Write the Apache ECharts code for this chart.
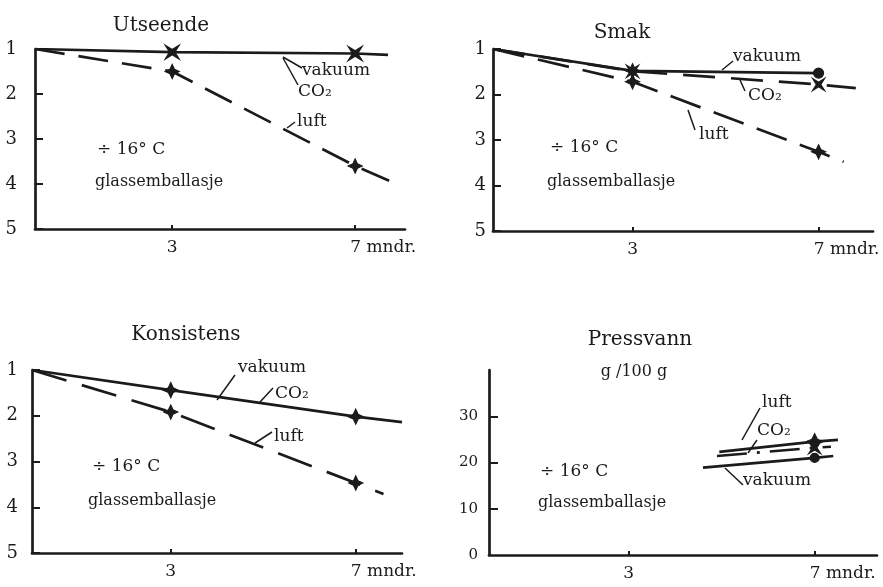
<!DOCTYPE html>
<html><head><meta charset="utf-8">
<script src="https://cdn.jsdelivr.net/npm/echarts@6/dist/echarts.min.js"></script>
<style>html,body{margin:0;padding:0;background:#fff}#c{width:883px;height:587px}</style>
</head><body><div id="c"></div>
<script>
// ---- data (months, scores) ----
const titles = ['Utseende', 'Smak', 'Konsistens', 'Pressvann'];
const scoreTicks = [1, 2, 3, 4, 5];
const pressTicks = [0, 10, 20, 30];
const monthTicks = [3, 7];

const utsVakMonths = [0, 3, 7, 7.72];
const utsVakuum    = [1, 1.07, 1.1, 1.13];
const utsLuftMonths = [0, 3, 7, 7.82];
const utsLuft       = [1, 1.5, 3.6, 3.96];

const smakVakMonths = [0, 3, 7];
const smakVakuum    = [1, 1.48, 1.53];
const smakCO2Months = [0, 3, 7, 7.8];
const smakCO2       = [1, 1.49, 1.78, 1.86];
const smakLuftMonths = [0, 3, 7, 7.54];
const smakLuft       = [1, 1.72, 3.26, 3.48];

const konsVakMonths = [0, 3, 7, 8.0];
const konsVakuum    = [1, 1.44, 2.02, 2.14];
const konsLuftMonths = [0, 3, 7, 7.6];
const konsLuft       = [1, 1.92, 3.47, 3.71];

const pressLuftMonths = [4.95, 7, 7.5];
const pressLuft       = [22.3, 24.5, 24.9];
const pressCO2Months  = [4.9, 7, 7.35];
const pressCO2        = [21.4, 23.2, 23.4];
const pressVakMonths  = [4.6, 7, 7.4];
const pressVakuum     = [18.9, 21.0, 21.4];

// ---- styling ----
const INK = '#1b1b1b';
const FONT = 'DejaVu Serif';
const STAR = 'path://M0,-10 L3.2,-3.2 L10,0 L3.2,3.2 L0,10 L-3.2,3.2 L-10,0 L-3.2,-3.2 Z';
const XSTAR = 'path://M-8,-8 L0,-3 L8,-8 L3,0 L8,8 L0,3 L-8,8 L-3,0 Z';

function pts(months, vals, symbol, size) {
  return months.map((m, i) => {
    const marked = (m === 3 || m === 7);
    return { value: [m, vals[i]], symbol: marked ? symbol : 'none', symbolSize: size || 14 };
  });
}
function line(idx, months, vals, opts) {
  return {
    type: 'line', xAxisIndex: idx, yAxisIndex: idx,
    data: pts(months, vals, opts.symbol, opts.size),
    showSymbol: true, silent: true, animation: false, z: opts.z || 2,
    lineStyle: { color: INK, width: 2.7, type: opts.dash || 'solid', cap: 'butt' },
    itemStyle: { color: INK, borderColor: INK, borderWidth: 1.2 }
  };
}

const grids = [
  { left: 35,  top: 49,  width: 370, height: 180 },
  { left: 493, top: 49,  width: 380, height: 182 },
  { left: 32,  top: 370, width: 370, height: 183 },
  { left: 489, top: 370, width: 388, height: 185 }
];
const xMax = [8.09, 8.17, 8.0, 8.34];
const yMargin = [18, 7, 14, 11];

const xAxes = grids.map((g, i) => ({
  type: 'value', gridIndex: i, min: 0, max: xMax[i],
  splitLine: { show: false },
  axisLine: { lineStyle: { color: INK, width: 2.7 } },
  axisTick: { show: true, inside: true, length: 4, customValues: monthTicks, lineStyle: { color: INK, width: 2 } },
  axisLabel: {
    customValues: monthTicks, color: INK, fontFamily: FONT, fontSize: 17, margin: 10,
    formatter: v => v === 7 ? '{m|7 mndr.}' : '3',
    rich: { m: { padding: [0, 0, 0, 56], fontFamily: FONT, fontSize: 17, color: INK } }
  }
}));
const yAxes = grids.map((g, i) => i < 3 ? ({
  type: 'value', gridIndex: i, min: 1, max: 5, inverse: true,
  splitLine: { show: false },
  axisLine: { lineStyle: { color: INK, width: 2.7 } },
  axisTick: { inside: true, length: 8, customValues: scoreTicks, lineStyle: { color: INK, width: 2 } },
  axisLabel: { customValues: scoreTicks, color: INK, fontFamily: FONT, fontSize: 18, margin: yMargin[i] }
}) : ({
  type: 'value', gridIndex: i, min: 0, max: 40,
  splitLine: { show: false },
  axisLine: { lineStyle: { color: INK, width: 2.7 } },
  axisTick: { inside: true, length: 9, customValues: [10, 20, 30], lineStyle: { color: INK, width: 2 } },
  axisLabel: { customValues: pressTicks, color: INK, fontFamily: FONT, fontSize: 15, margin: yMargin[i] }
}));

const series = [
  line(0, utsVakMonths, utsVakuum, { symbol: XSTAR }),
  line(0, utsLuftMonths, utsLuft, { symbol: STAR, dash: [30, 14] }),
  line(1, smakVakMonths, smakVakuum, { symbol: STAR }),
  line(1, smakCO2Months, smakCO2, { symbol: XSTAR, dash: [32, 16], size: 12 }),
  line(1, smakLuftMonths, smakLuft, { symbol: STAR, dash: [32, 14] }),
  line(2, konsVakMonths, konsVakuum, { symbol: STAR, size: 15 }),
  line(2, konsLuftMonths, konsLuft, { symbol: STAR, dash: [36, 16] }),
  line(3, pressLuftMonths, pressLuft, { symbol: STAR, size: 16 }),
  line(3, pressCO2Months, pressCO2, { symbol: XSTAR, dash: [30, 10, 3, 10], size: 12 }),
  line(3, pressVakMonths, pressVakuum, { symbol: 'circle', size: 9 })
];
// circle marker at 7 for Smak vakuum
series[2].data[2].symbol = 'circle';
series[2].data[2].symbolSize = 10;

function txt(s, x, y, size, align) {
  return { type: 'text', x: x, y: y, silent: true,
    style: { text: s, font: size + 'px "' + FONT + '"', fill: INK, align: align || 'left', verticalAlign: 'middle' } };
}
function lead(x1, y1, x2, y2) {
  return { type: 'line', silent: true, shape: { x1, y1, x2, y2 }, style: { stroke: INK, lineWidth: 1.5 } };
}

const graphic = [
  txt(titles[0], 161, 26, 20, 'center'),
  txt(titles[1], 622, 33, 20, 'center'),
  txt(titles[2], 186, 335, 20, 'center'),
  txt(titles[3], 640, 340, 20, 'center'),
  txt('g /100 g', 634, 372, 16, 'center'),

  txt('÷ 16° C', 97, 150, 17), txt('glassemballasje', 95, 182, 16),
  txt('÷ 16° C', 550, 148, 17), txt('glassemballasje', 547, 182, 16),
  txt('÷ 16° C', 92, 467, 17), txt('glassemballasje', 88, 501, 16),
  txt('÷ 16° C', 540, 472, 17), txt('glassemballasje', 538, 503, 16),

  // Utseende labels
  txt('vakuum', 302, 71, 17), lead(283, 57, 302, 68),
  txt('CO₂', 298, 92, 17), lead(283, 58, 298, 85),
  txt('luft', 297, 122, 17), lead(287, 128, 295, 122),
  // Smak labels
  txt('vakuum', 733, 57, 17), lead(722, 70, 733, 61),
  txt('CO₂', 748, 96, 17), lead(740, 80, 745, 91),
  txt('luft', 699, 135, 17), lead(688, 110, 695, 130),
  // Konsistens labels
  txt('vakuum', 238, 368, 17), lead(217, 400, 235, 375),
  txt('CO₂', 275, 394, 17), lead(260, 402, 273, 388),
  txt('luft', 274, 437, 17), lead(255, 443, 272, 432),
  // Pressvann labels
  txt('luft', 762, 403, 17), lead(742, 440, 760, 408),
  txt('CO₂', 757, 431, 17), lead(748, 453, 757, 440),
  txt('vakuum', 743, 481, 17), lead(725, 468, 743, 485)
];

const chart = echarts.init(document.getElementById('c'), null, { renderer: 'canvas' });
chart.setOption({
  backgroundColor: '#ffffff',
  animation: false,
  grid: grids,
  xAxis: xAxes,
  yAxis: yAxes,
  series: series,
  graphic: graphic
});
</script>
</body></html>
